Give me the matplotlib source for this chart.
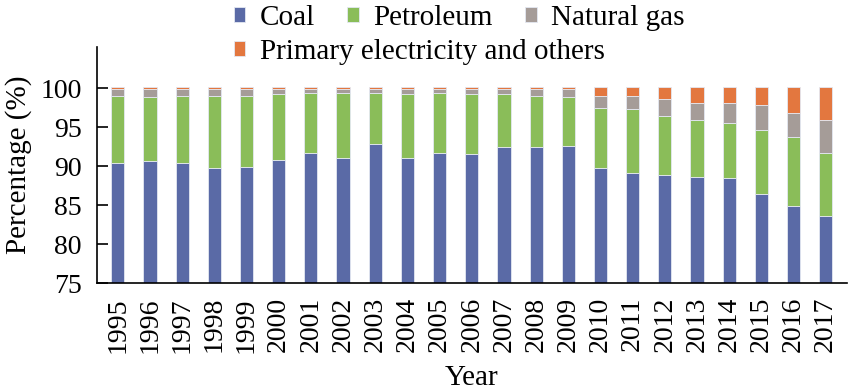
import matplotlib
matplotlib.use("Agg")
import matplotlib.pyplot as plt
import numpy as np

plt.rcParams['font.family'] = ['Liberation Serif', 'DejaVu Serif']

years = ['1995', '1996', '1997', '1998', '1999', '2000', '2001', '2002',
         '2003', '2004', '2005', '2006', '2007', '2008', '2009', '2010',
         '2011', '2012', '2013', '2014', '2015', '2016', '2017']

# shares of each energy source (%)
coal = [90.40, 90.65, 90.43, 89.75, 89.97, 90.87, 91.77, 91.13, 92.93, 91.13,
        91.77, 91.55, 92.45, 92.45, 92.67, 89.75, 89.10, 88.90, 88.68, 88.46,
        86.45, 84.90, 83.58]
petroleum = [8.65, 8.20, 8.62, 9.30, 9.08, 8.40, 7.67, 8.31, 6.51, 8.14,
             7.71, 7.72, 6.82, 6.60, 6.18, 7.75, 8.20, 7.50, 7.32, 7.08,
             8.19, 8.84, 8.19]
gas = [0.85, 1.05, 0.85, 0.85, 0.85, 0.63, 0.51, 0.51, 0.46, 0.63,
       0.47, 0.63, 0.63, 0.85, 1.05, 1.55, 1.75, 2.20, 2.15, 2.61,
       3.30, 3.08, 4.19]
others = [0.30, 0.30, 0.30, 0.30, 0.30, 0.30, 0.25, 0.25, 0.30, 0.30,
          0.25, 0.30, 0.30, 0.30, 0.30, 1.15, 1.15, 1.60, 2.05, 2.05,
          2.26, 3.38, 4.24]

names = ['Coal', 'Petroleum', 'Natural gas', 'Primary electricity and others']
colors = ['#5a6aa6', '#8abd59', '#a59c98', '#e3773f']

fig = plt.figure(figsize=(8.5, 3.9), dpi=100)
ax = fig.add_axes([0.114, 0.274, 0.882, 0.605])

x = np.arange(len(years))
bottom = np.zeros(len(years))
bars = []
for vals, c in zip([coal, petroleum, gas, others], colors):
    b = ax.bar(x, vals, 0.41, bottom=bottom, color=c,
               edgecolor='#e4e8f2', linewidth=0.6)
    bars.append(b)
    bottom = bottom + np.array(vals)

ax.set_xlim(-0.65, len(years) - 0.35)
ax.set_ylim(75, 105.3)
ax.set_yticks([75, 80, 85, 90, 95, 100])
ax.set_xticks(x)
ax.set_xticklabels(years, rotation=90)
ax.tick_params(axis='y', direction='in', length=8, width=1.2, pad=11, labelsize=20)
ax.tick_params(axis='x', length=0, pad=10, labelsize=20)
for s in ['top', 'right']:
    ax.spines[s].set_visible(False)
for s in ['left', 'bottom']:
    ax.spines[s].set_linewidth(1.2)

ax.set_ylabel('Percentage (%)', fontsize=21, labelpad=6)
ax.set_xlabel('Year', fontsize=21)
ax.xaxis.set_label_coords(0.5, -0.345)

kw = dict(frameon=False, fontsize=21, handlelength=0.4, handleheight=0.4,
          handletextpad=0.5, columnspacing=1.1, borderpad=0, borderaxespad=0)
leg1 = fig.legend(bars[:3], names[:3], ncol=3, loc='center left',
                  bbox_to_anchor=(0.275, 1 - 18 / 390), **kw)
leg2 = fig.legend(bars[3:], names[3:], loc='center left',
                  bbox_to_anchor=(0.275, 1 - 52 / 390), **kw)

plt.savefig('out.png', dpi=100)
